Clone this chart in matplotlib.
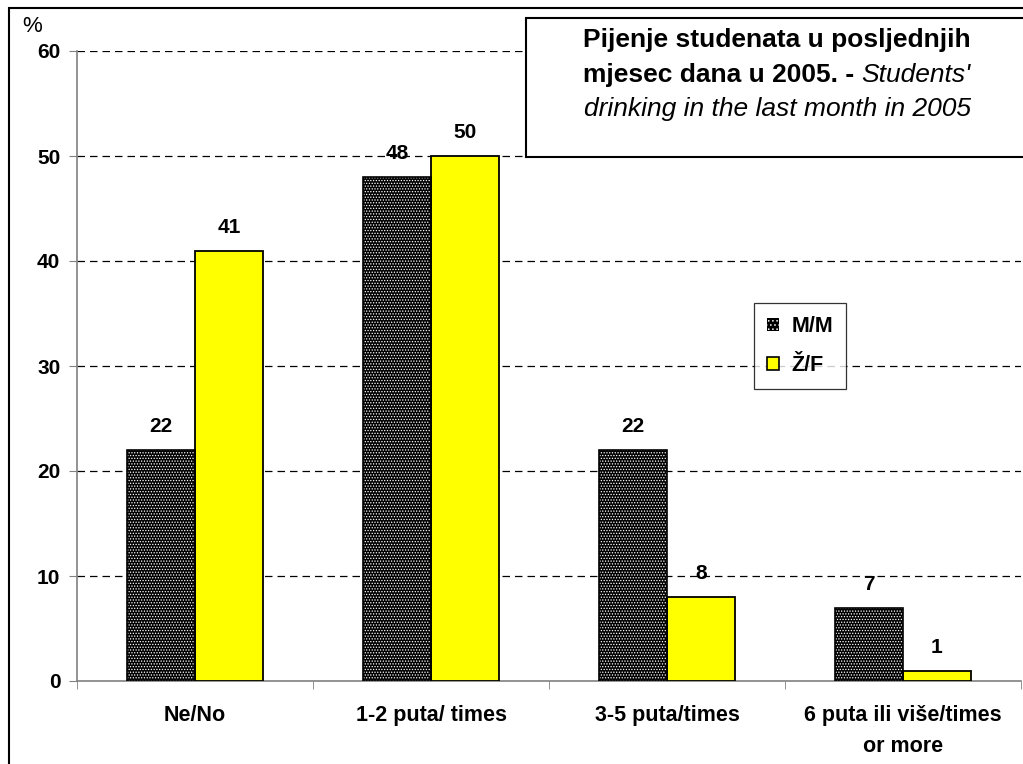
import numpy as np
import matplotlib.pyplot as plt
from matplotlib.patches import Rectangle, Patch

plt.rcParams['font.family'] = ['Liberation Sans', 'DejaVu Sans']
plt.rcParams['hatch.linewidth'] = 0.6

categories = ['Ne/No', '1-2 puta/ times', '3-5 puta/times', '6 puta ili više/times\nor more']
male = [22, 48, 22, 7]
female = [41, 50, 8, 1]
yticks = [0, 10, 20, 30, 40, 50, 60]

W, H = 1023, 764
fig = plt.figure(figsize=(W / 100, H / 100), dpi=100)
ax = fig.add_axes([77 / W, 1 - 681 / H, (1021 - 77) / W, (681 - 51) / H])

x = np.arange(len(categories))
bw = 0.288

# M/M bars: black with white dots, then black outline on top
ax.bar(x - bw / 2, male, bw, color='black', edgecolor='white', hatch='......', linewidth=0, zorder=3)
ax.bar(x - bw / 2, male, bw, fill=False, edgecolor='black', linewidth=1.2, zorder=4)
ax.bar(x + bw / 2, female, bw, color='#ffff00', edgecolor='black', linewidth=1.3, zorder=3)

for xi, v in zip(x, male):
    ax.annotate(str(v), (xi - bw / 2, v), xytext=(0, 10), textcoords='offset points',
                ha='center', va='bottom', fontsize=15, fontweight='bold')
for xi, v in zip(x, female):
    ax.annotate(str(v), (xi + bw / 2, v), xytext=(0, 10), textcoords='offset points',
                ha='center', va='bottom', fontsize=15, fontweight='bold')

ax.set_xlim(-0.5, len(categories) - 0.5)
ax.set_ylim(0, 60)
ax.set_yticks(yticks)
ax.set_yticklabels([str(t) for t in yticks], fontsize=15, fontweight='bold')
for t in yticks[1:]:
    ax.axhline(t, color='black', linestyle=(0, (6, 4)), linewidth=0.9, zorder=1)

ax.set_xticks(x)
ax.set_xticklabels(categories, fontsize=15.5, fontweight='bold', linespacing=1.65)
ax.tick_params(axis='x', length=0, pad=17)
ax.set_xticks(np.arange(len(categories) + 1) - 0.5, minor=True)
ax.tick_params(axis='x', which='minor', length=6, color='#808080', direction='out')
ax.tick_params(axis='y', length=6, color='#808080', direction='out', pad=6)

for s in ['top', 'right']:
    ax.spines[s].set_visible(False)
for s in ['left', 'bottom']:
    ax.spines[s].set_color('#808080')
    ax.spines[s].set_linewidth(1.2)

handles = [Patch(facecolor='black', edgecolor='white', hatch='....', linewidth=0),
           Patch(facecolor='#ffff00', edgecolor='black', linewidth=1.2)]
leg = ax.legend(handles, ['M/M', 'Ž/F'], loc='upper left',
                bbox_to_anchor=((754 - 77) / 944, 1 - (303 - 51) / 630),
                frameon=True, fancybox=False, edgecolor='black',
                prop={'weight': 'bold', 'size': 15.5}, handlelength=0.55, handleheight=0.55,
                handletextpad=0.6, borderpad=0.6, labelspacing=0.85, borderaxespad=0)
leg.get_frame().set_linewidth(0.9)

fig.text(32 / W, 1 - 27 / H, '%', fontsize=16, ha='center', va='center')

# title box
fig.patches.append(Rectangle((526 / W, 1 - 157 / H), (W - 526) / W + 0.01, (157 - 18) / H,
                             transform=fig.transFigure, fill=True, facecolor='white',
                             edgecolor='black', linewidth=1.5, zorder=5))
cx = 777 / W
fig.text(cx, 1 - 47 / H, 'Pijenje studenata u posljednjih', ha='center', va='baseline',
         fontsize=19, fontweight='bold', zorder=6)
part_a = fig.text(0, 1 - 82 / H, 'mjesec dana u 2005. - ', ha='left', va='baseline',
                  fontsize=19, fontweight='bold', zorder=6)
part_b = fig.text(0, 1 - 82 / H, "Students'", ha='left', va='baseline',
                  fontsize=19, fontstyle='italic', zorder=6)
fig.text(cx, 1 - 116 / H, 'drinking in the last month in 2005', ha='center', va='baseline',
         fontsize=19, fontstyle='italic', zorder=6)

r = fig.canvas.get_renderer()
wa = part_a.get_window_extent(r).width / W
wb = part_b.get_window_extent(r).width / W
part_a.set_x(cx - (wa + wb) / 2)
part_b.set_x(cx - (wa + wb) / 2 + wa)

# outer border
fig.patches.append(Rectangle((9 / W, -0.01), 1, 1 - 8 / H + 0.01, transform=fig.transFigure,
                             fill=False, edgecolor='black', linewidth=1.5, zorder=0))

fig.savefig('out.png', dpi=100)
